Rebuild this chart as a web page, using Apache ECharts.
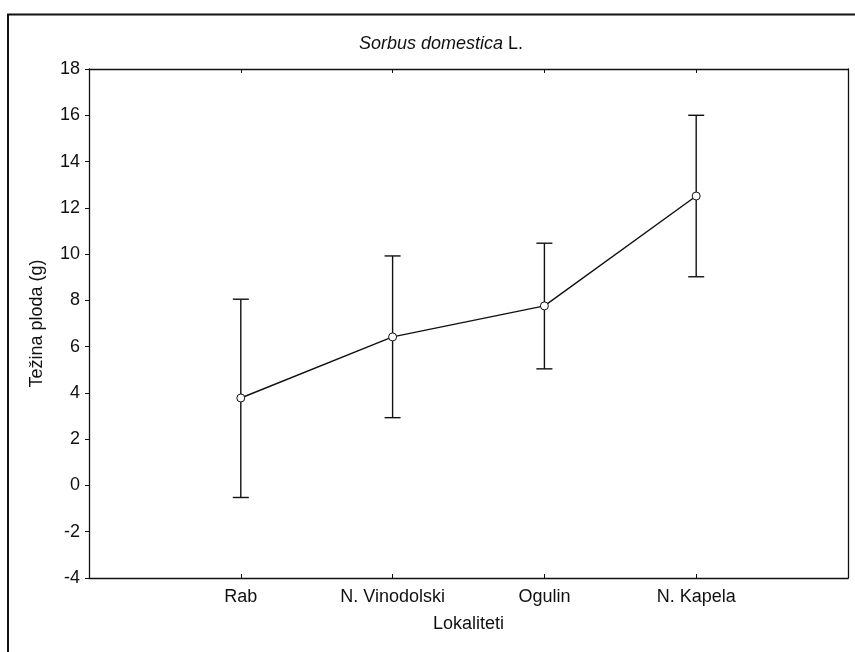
<!DOCTYPE html>
<html>
<head>
<meta charset="utf-8">
<script src="https://cdn.jsdelivr.net/npm/echarts@6/dist/echarts.min.js"></script>
<style>
  html, body { margin: 0; padding: 0; background: #fff; }
  #chart { width: 855px; height: 652px; }
</style>
</head>
<body>
<div id="chart"></div>
<script>
// empty slots at both ends so the four sites sit at 1..4 of a 0..5 span
const categories = ['', 'Rab', 'N. Vinodolski', 'Ogulin', 'N. Kapela', ''];
const means = [null, 3.78, 6.42, 7.76, 12.51, null];
const lower = [null, -0.52, 2.93, 5.04, 9.02, null];
const upper = [null, 8.05, 9.92, 10.47, 16.0, null];
const yTicks = { min: -4, max: 18, step: 2 };

const fontFamily = '"Liberation Sans", Arial, sans-serif';
const ink = '#111';
const fs = 18;

const errData = [];
for (let i = 0; i < categories.length; i++) {
  if (lower[i] !== null) errData.push([i, lower[i], upper[i]]);
}

const chart = echarts.init(document.getElementById('chart'));

const option = {
  animation: false,
  textStyle: { fontFamily: fontFamily },
  title: {
    text: '{i|Sorbus domestica} L.',
    left: 354,
    top: 30,
    textStyle: {
      fontSize: fs,
      fontWeight: 'normal',
      color: ink,
      rich: {
        i: { fontSize: fs, fontStyle: 'italic', color: ink, fontFamily: fontFamily }
      }
    }
  },
  graphic: [
    {
      type: 'rect',
      shape: { x: 8, y: 14.5, width: 1000, height: 1000 },
      style: { fill: 'none', stroke: ink, lineWidth: 2 },
      silent: true
    }
  ],
  grid: { left: 89, right: 7, top: 69, bottom: 74 },
  xAxis: [
    {
      type: 'category',
      data: categories,
      boundaryGap: false,
      name: 'Lokaliteti',
      nameLocation: 'middle',
      nameGap: 37,
      nameTextStyle: { fontSize: fs, color: ink },
      axisLine: { onZero: false, lineStyle: { color: ink, width: 1.3 } },
      axisTick: { inside: true, length: 4, interval: 0, lineStyle: { color: ink } },
      axisLabel: { interval: 0, margin: 10, fontSize: fs, color: ink },
      splitLine: { show: false }
    },
    {
      type: 'category',
      data: categories,
      boundaryGap: false,
      position: 'top',
      axisLine: { onZero: false, lineStyle: { color: ink, width: 1.3 } },
      axisTick: { inside: true, length: 4, interval: 0, lineStyle: { color: ink } },
      axisLabel: { show: false },
      splitLine: { show: false }
    }
  ],
  yAxis: [
    {
      type: 'value',
      min: yTicks.min,
      max: yTicks.max,
      interval: yTicks.step,
      name: 'Težina ploda (g)',
      nameLocation: 'middle',
      nameGap: 43,
      nameTextStyle: { fontSize: fs, color: ink },
      axisLine: { show: true, onZero: false, lineStyle: { color: ink, width: 1.3 } },
      axisTick: { show: true, length: 4, lineStyle: { color: ink } },
      axisLabel: { margin: 9, fontSize: fs, color: ink },
      splitLine: { show: false }
    },
    {
      type: 'value',
      min: yTicks.min,
      max: yTicks.max,
      interval: yTicks.step,
      position: 'right',
      axisLine: { show: true, onZero: false, lineStyle: { color: ink, width: 1.3 } },
      axisTick: { show: false },
      axisLabel: { show: false },
      splitLine: { show: false }
    }
  ],
  series: [
    {
      type: 'custom',
      name: 'err',
      z: 2,
      data: errData,
      renderItem: function (params, api) {
        const x = api.value(0);
        const lo = api.coord([x, api.value(1)]);
        const hi = api.coord([x, api.value(2)]);
        const half = 8;
        const st = { stroke: ink, lineWidth: 1.4 };
        return {
          type: 'group',
          children: [
            { type: 'line', shape: { x1: hi[0], y1: hi[1], x2: lo[0], y2: lo[1] }, style: st },
            { type: 'line', shape: { x1: hi[0] - half, y1: hi[1], x2: hi[0] + half, y2: hi[1] }, style: st },
            { type: 'line', shape: { x1: lo[0] - half, y1: lo[1], x2: lo[0] + half, y2: lo[1] }, style: st }
          ]
        };
      }
    },
    {
      type: 'line',
      name: 'mean',
      z: 3,
      data: means,
      connectNulls: false,
      symbol: 'circle',
      symbolSize: 8,
      showAllSymbol: true,
      lineStyle: { color: ink, width: 1.4 },
      itemStyle: { color: '#fff', borderColor: ink, borderWidth: 1 }
    }
  ]
};

chart.setOption(option);
</script>
</body>
</html>
